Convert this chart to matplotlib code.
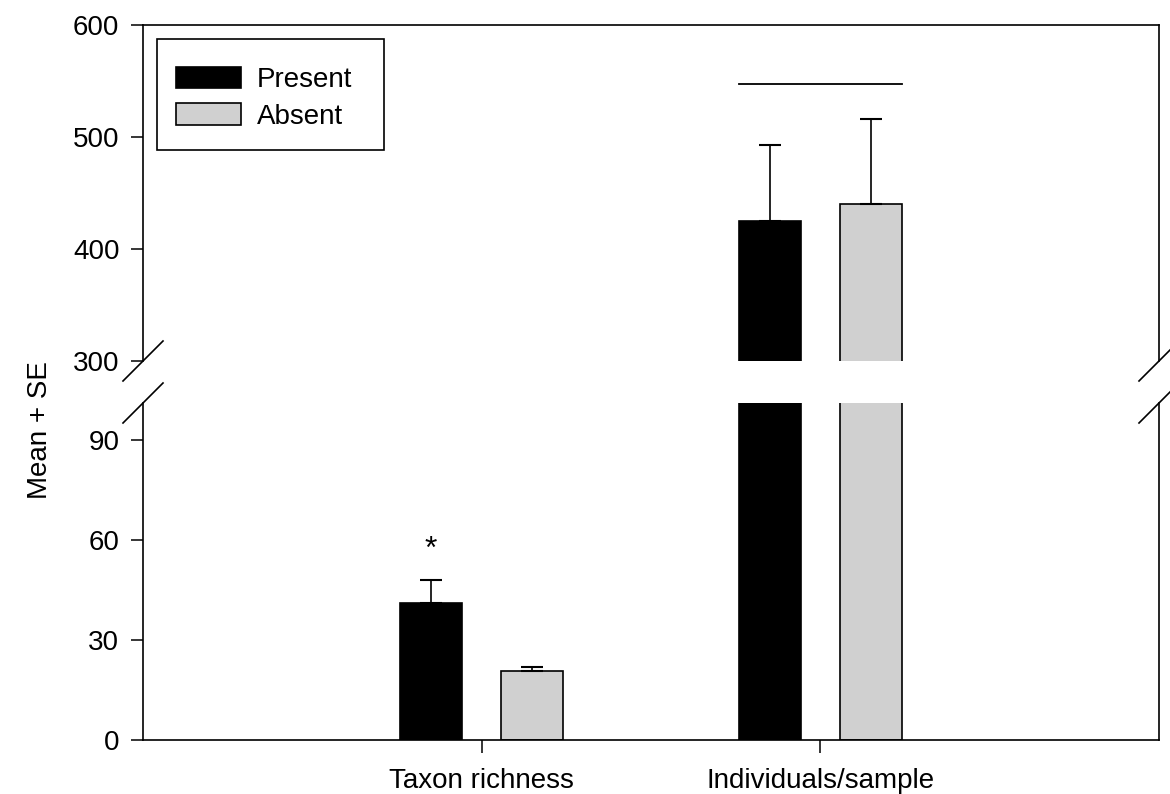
import matplotlib.pyplot as plt
from matplotlib.patches import Rectangle
import numpy as np

plt.rcParams['font.family'] = ['Liberation Sans', 'DejaVu Sans']

# group labels and means / standard errors
groups = ['Taxon richness', 'Individuals/sample']
present_mean = [41, 425]
present_se = [7, 68]
absent_mean = [20.7, 440]
absent_se = [1.2, 76]
series = ['Present', 'Absent']
bar_line_y = 547       # line drawn over the Individuals/sample pair
star_y = 57            # significance marker over Taxon richness / Present

x = np.array([1.0, 2.0])
off = 0.15
width = 0.183
grey = '#d0d0d0'

fig = plt.figure(figsize=(11.7, 7.94), dpi=100)
left, w = 143 / 1170, 1016 / 1170
ax_top = fig.add_axes([left, 1 - 361 / 794, w, 336 / 794])
ax_bot = fig.add_axes([left, 1 - 740 / 794, w, 337 / 794])

for ax in (ax_top, ax_bot):
    ax.bar(x - off, present_mean, width, color='black', edgecolor='black',
           linewidth=1.2, label=series[0])
    ax.bar(x + off, absent_mean, width, color=grey, edgecolor='black',
           linewidth=1.2, label=series[1])
    ax.errorbar(x - off, present_mean, yerr=[np.zeros(2), present_se], fmt='none',
                ecolor='black', elinewidth=1.2, capsize=8, capthick=1.5)
    ax.errorbar(x + off, absent_mean, yerr=[np.zeros(2), absent_se], fmt='none',
                ecolor='black', elinewidth=1.2, capsize=8, capthick=1.5)
    ax.set_xlim(0, 3)
    for s in ax.spines.values():
        s.set_linewidth(1.2)
    ax.tick_params(axis='y', direction='out', length=9, width=1.1, pad=8,
                   labelsize=20, right=False)

ax_top.set_ylim(300, 600)
ax_top.set_yticks([300, 400, 500, 600])
ax_top.spines['bottom'].set_visible(False)
ax_top.tick_params(axis='x', bottom=False, labelbottom=False)

ax_bot.set_ylim(0, 101)
ax_bot.set_yticks([0, 30, 60, 90])
ax_bot.spines['top'].set_visible(False)
ax_bot.set_xticks(x)
ax_bot.set_xticklabels(groups)
ax_bot.tick_params(axis='x', direction='out', length=9, width=1.1, pad=11,
                   labelsize=20, top=False)

# line over the Individuals/sample bars
ax_top.plot([x[1] - off - width / 2, x[1] + off + width / 2], [bar_line_y, bar_line_y],
            color='black', lw=1.3)
ax_bot.text(x[0] - off, star_y, '*', ha='center', va='center', fontsize=23)

# break marks on both spines
dx = 20 / 1016
dy_t = 20 / 336
dy_b = 20 / 337
for xs in (0, 1):
    ax_top.plot([xs - dx, xs + dx], [-dy_t, dy_t], transform=ax_top.transAxes,
                color='black', lw=1.2, clip_on=False)
    ax_bot.plot([xs - dx, xs + dx], [1 - dy_b, 1 + dy_b], transform=ax_bot.transAxes,
                color='black', lw=1.2, clip_on=False)

# legend: entries without frame, box drawn separately
ax_top.legend(loc='upper left', bbox_to_anchor=(33 / 1016, 1 - 42 / 336),
              borderaxespad=0, borderpad=0, fontsize=20, frameon=False,
              handlelength=2.35, handleheight=0.8, labelspacing=0.36,
              handletextpad=0.55)
ax_top.add_patch(Rectangle((14 / 1016, 1 - 125 / 336), 227 / 1016, 111 / 336,
                           transform=ax_top.transAxes, fill=False,
                           edgecolor='black', linewidth=1.2, zorder=5))

fig.text(40 / 1170, 1 - 430 / 794, 'Mean + SE', rotation=90, ha='center',
         va='center', fontsize=20)

fig.savefig('out.png', dpi=100)
